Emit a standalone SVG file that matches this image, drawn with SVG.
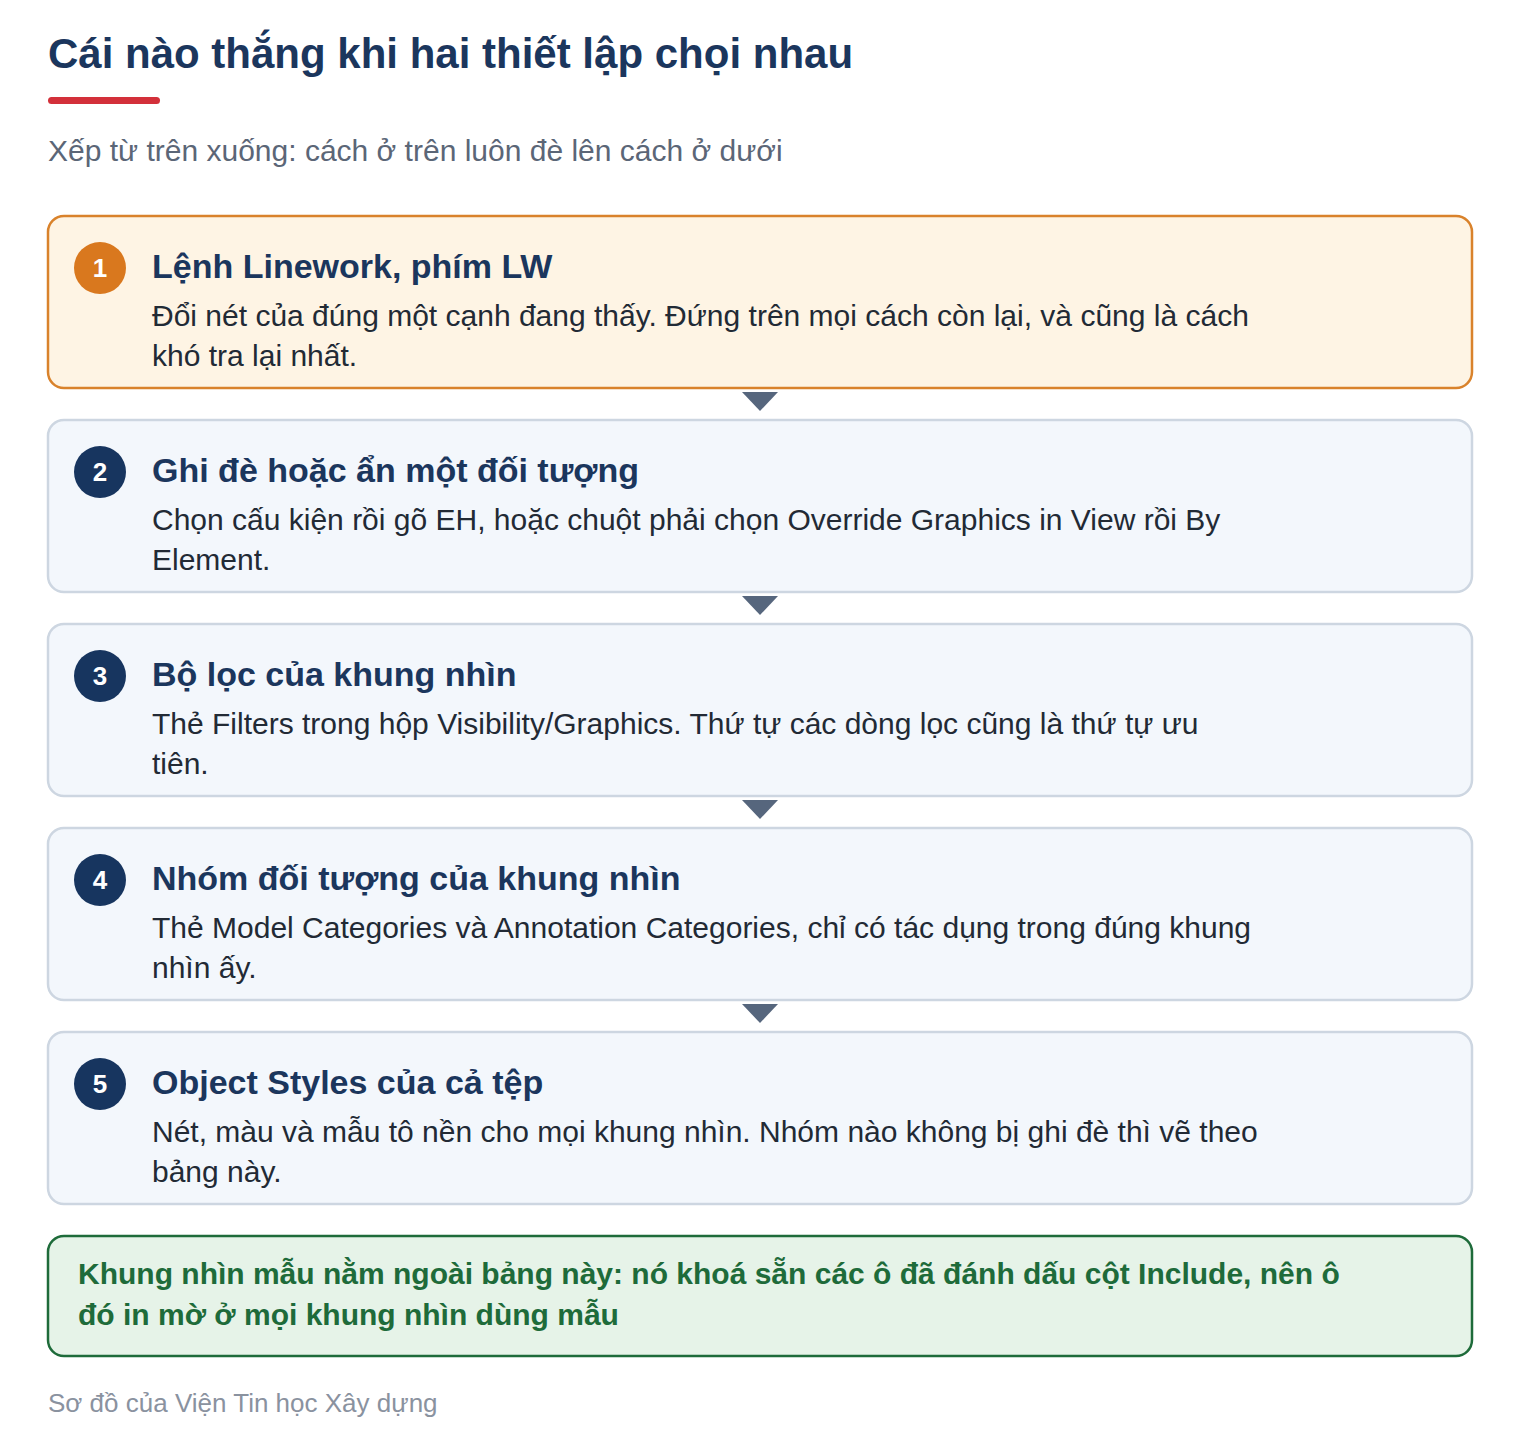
<svg xmlns="http://www.w3.org/2000/svg" width="1520" height="1440" viewBox="0 0 1520 1440">
<style>
text{font-family:"Liberation Sans",Arial,sans-serif}
.title{font-size:42px;font-weight:bold;fill:#1b365d}
.sub{font-size:30px;fill:#5b6677}
.card{fill:#f3f7fc;stroke:#cdd6e1;stroke-width:2.5}
.hi{fill:#fef4e4;stroke:#d9822b;stroke-width:2.5}
.num{fill:#17355f}
.numhi{fill:#d9781e}
.ntext{font-size:26px;font-weight:bold;fill:#ffffff;text-anchor:middle}
.head{font-size:34px;font-weight:bold;fill:#1b365d}
.body{font-size:30px;fill:#222a35}
.arrow{fill:#56667d}
.note{fill:#e6f3e8;stroke:#1e6b3a;stroke-width:2.5}
.ntxt{font-size:30px;font-weight:bold;fill:#1e6b3a}
.foot{font-size:26px;fill:#8a929f}
</style>
<rect width="1520" height="1440" fill="#ffffff"/>
<text class="title" x="48" y="68">Cái nào thắng khi hai thiết lập chọi nhau</text>
<rect x="48" y="97" width="112" height="7" rx="3.5" fill="#d3303a"/>
<text class="sub" x="48" y="161">Xếp từ trên xuống: cách ở trên luôn đè lên cách ở dưới</text>
<g id="connectors">
<polygon class="arrow" points="742,392 778,392 760,411"/>
<polygon class="arrow" points="742,596 778,596 760,615"/>
<polygon class="arrow" points="742,800 778,800 760,819"/>
<polygon class="arrow" points="742,1004 778,1004 760,1023"/>
</g>
<g id="node1">
<rect class="hi" x="48" y="216" width="1424" height="172" rx="16"/>
<circle class="numhi" cx="100" cy="268" r="26"/>
<text class="ntext" x="100" y="277">1</text>
<text class="head" x="152" y="278">Lệnh Linework, phím LW</text>
<text class="body" x="152" y="326">Đổi nét của đúng một cạnh đang thấy. Đứng trên mọi cách còn lại, và cũng là cách</text>
<text class="body" x="152" y="366">khó tra lại nhất.</text>
</g>
<g id="node2">
<rect class="card" x="48" y="420" width="1424" height="172" rx="16"/>
<circle class="num" cx="100" cy="472" r="26"/>
<text class="ntext" x="100" y="481">2</text>
<text class="head" x="152" y="482">Ghi đè hoặc ẩn một đối tượng</text>
<text class="body" x="152" y="530">Chọn cấu kiện rồi gõ EH, hoặc chuột phải chọn Override Graphics in View rồi By</text>
<text class="body" x="152" y="570">Element.</text>
</g>
<g id="node3">
<rect class="card" x="48" y="624" width="1424" height="172" rx="16"/>
<circle class="num" cx="100" cy="676" r="26"/>
<text class="ntext" x="100" y="685">3</text>
<text class="head" x="152" y="686">Bộ lọc của khung nhìn</text>
<text class="body" x="152" y="734">Thẻ Filters trong hộp Visibility/Graphics. Thứ tự các dòng lọc cũng là thứ tự ưu</text>
<text class="body" x="152" y="774">tiên.</text>
</g>
<g id="node4">
<rect class="card" x="48" y="828" width="1424" height="172" rx="16"/>
<circle class="num" cx="100" cy="880" r="26"/>
<text class="ntext" x="100" y="889">4</text>
<text class="head" x="152" y="890">Nhóm đối tượng của khung nhìn</text>
<text class="body" x="152" y="938">Thẻ Model Categories và Annotation Categories, chỉ có tác dụng trong đúng khung</text>
<text class="body" x="152" y="978">nhìn ấy.</text>
</g>
<g id="node5">
<rect class="card" x="48" y="1032" width="1424" height="172" rx="16"/>
<circle class="num" cx="100" cy="1084" r="26"/>
<text class="ntext" x="100" y="1093">5</text>
<text class="head" x="152" y="1094">Object Styles của cả tệp</text>
<text class="body" x="152" y="1142">Nét, màu và mẫu tô nền cho mọi khung nhìn. Nhóm nào không bị ghi đè thì vẽ theo</text>
<text class="body" x="152" y="1182">bảng này.</text>
</g>
<g id="note">
<rect class="note" x="48" y="1236" width="1424" height="120" rx="16"/>
<text class="ntxt" x="78" y="1284">Khung nhìn mẫu nằm ngoài bảng này: nó khoá sẵn các ô đã đánh dấu cột Include, nên ô</text>
<text class="ntxt" x="78" y="1325">đó in mờ ở mọi khung nhìn dùng mẫu</text>
</g>
<text class="foot" x="48" y="1412">Sơ đồ của Viện Tin học Xây dựng</text>
</svg>
